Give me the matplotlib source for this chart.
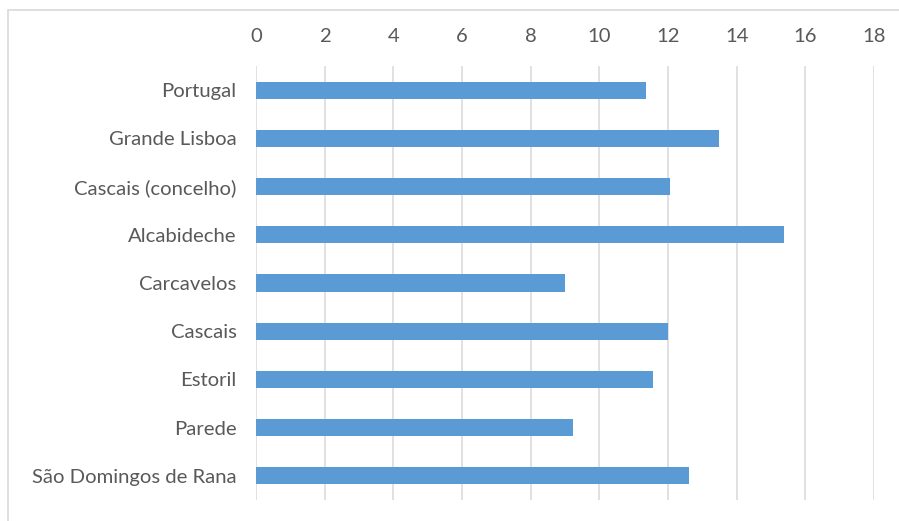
import matplotlib.pyplot as plt
import matplotlib.patches as mpatches
import numpy as np

plt.rcParams['font.family'] = ['Lato', 'DejaVu Sans']

# data
places = ['Portugal', 'Grande Lisboa', 'Cascais (concelho)', 'Alcabideche',
          'Carcavelos', 'Cascais', 'Estoril', 'Parede', 'São Domingos de Rana']
values = [11.35, 13.49, 12.06, 15.39, 9.0, 11.99, 11.57, 9.24, 12.62]
xticks = [0, 2, 4, 6, 8, 10, 12, 14, 16, 18]

bar_color = '#5b9bd5'
text_color = '#595959'
grid_color = '#d9d9d9'

fig = plt.figure(figsize=(8.99, 5.21), dpi=100)
ax = fig.add_axes([256 / 899, 1 - 500 / 521, 618 / 899, 434 / 521])

# light frame around the whole chart like the excel chart area
fig.patches.append(mpatches.Rectangle((8 / 899, -0.05), 1.0, 1 - 10.5 / 521 + 0.05,
                                      transform=fig.transFigure, fill=False,
                                      edgecolor=grid_color, linewidth=1.2))

y = np.arange(len(places))
ax.barh(y, values, height=0.355, color=bar_color, zorder=3)

ax.set_xlim(0, 18)
ax.set_ylim(len(places) - 0.5, -0.5)
ax.set_xticks(xticks)
ax.set_yticks(y)
ax.set_yticklabels(places)

ax.xaxis.tick_top()
ax.tick_params(axis='x', length=0, pad=15, labelsize=14.6, labelcolor=text_color)
ax.tick_params(axis='y', length=0, pad=14, labelsize=14.6, labelcolor=text_color)

ax.grid(axis='x', color=grid_color, linewidth=1.1, zorder=0)
for s in ax.spines.values():
    s.set_visible(False)

fig.savefig('out.png', dpi=100)
